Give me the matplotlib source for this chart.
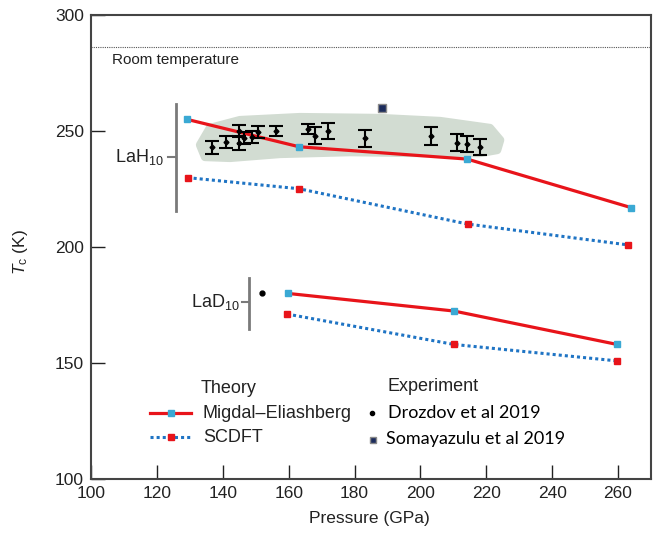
import matplotlib.pyplot as plt
from matplotlib.patches import Polygon

# theory curves (pressure in GPa, Tc in K)
lah_p = [129.2, 163.2, 214.2, 263.9]
lah_me = [255.0, 243.2, 237.9, 217.0]
lah_scdft_p = [129.3, 163.2, 214.3, 263.0]
lah_scdft = [229.9, 225.1, 209.9, 200.9]

lad_p = [159.7, 210.2, 259.7]
lad_me = [180.0, 172.4, 158.0]
lad_scdft_p = [159.5, 210.2, 259.7]
lad_scdft = [171.1, 158.0, 150.9]

# experiments
drozdov_p = [136.8, 141.0, 145.0, 145.0, 146.5, 149.0, 150.6, 156.2,
             166.0, 168.0, 172.0, 183.2, 203.1, 211.2, 214.2, 218.1]
drozdov_tc = [243.0, 245.3, 250.0, 245.0, 247.0, 247.5, 249.5, 250.0,
              250.9, 248.0, 250.1, 246.8, 247.8, 245.0, 244.4, 243.2]
drozdov_err = [2.7, 2.5, 2.5, 3.0, 2.5, 2.5, 2.5, 2.0,
               2.2, 3.8, 3.5, 3.8, 3.8, 3.8, 3.5, 3.5]
drozdov_lad_p = [151.8]
drozdov_lad_tc = [180.0]
somayazulu_p = [188.2]
somayazulu_tc = [259.8]

# shaded experimental band outline
band_p = [133.1, 136.1, 145.2, 163.4, 187.7, 206.0, 221.1, 224.2,
          223.3, 218.1, 199.9, 178.6, 157.4, 142.2, 134.6]
band_tc = [244.0, 251.3, 254.7, 256.0, 255.6, 254.3, 251.3, 246.1,
           241.8, 240.5, 240.5, 240.9, 240.1, 238.4, 238.8]

room_temp = 286.2

red = '#e8141a'
blue = '#1f74c4'
cyan = '#3aa9d4'
gray = '#7a7a7a'
navy = '#1c2c5c'

plt.rcParams['font.family'] = ['Liberation Sans', 'DejaVu Sans']
plt.rcParams['mathtext.fontset'] = 'custom'
plt.rcParams['mathtext.rm'] = 'Liberation Sans'
plt.rcParams['mathtext.it'] = 'Liberation Sans:italic'

fig = plt.figure(figsize=(6.56, 5.33), dpi=100)
ax = fig.add_axes([91 / 656, 1 - 479 / 533, 560 / 656, 464 / 533])

band = Polygon(list(zip(band_p, band_tc)), closed=True, facecolor='#d2dcd2',
               edgecolor='#d2dcd2', linewidth=6, joinstyle='round', zorder=1)
ax.add_patch(band)

ax.axhline(room_temp, color='#555555', linestyle=(0, (1, 1)), linewidth=0.8)
ax.text(106.5, 283.5, 'Room temperature', fontsize=11, color='#222222', va='top')

me_style = dict(color=red, linewidth=2.3, marker='s', markersize=4,
                markerfacecolor=cyan, markeredgecolor=cyan, zorder=3)
sc_style = dict(color=blue, linewidth=2.2, linestyle=(0, (1, 1)), marker='s',
                markersize=4, markerfacecolor=red, markeredgecolor=red, zorder=3)

ax.plot(lah_p, lah_me, **me_style)
ax.plot(lah_scdft_p, lah_scdft, **sc_style)
ax.plot(lad_p, lad_me, **me_style)
ax.plot(lad_scdft_p, lad_scdft, **sc_style)

ax.errorbar(drozdov_p, drozdov_tc, yerr=drozdov_err, fmt='D', color='black',
            markersize=2.5, capsize=5, capthick=1.5, elinewidth=1.5, zorder=4)
ax.plot(drozdov_lad_p, drozdov_lad_tc, 'o', color='black', markersize=3.5, zorder=4)
ax.plot(somayazulu_p, somayazulu_tc, 's', color=navy, markeredgecolor='#8a8a8a',
        markersize=6, zorder=4)

# compound brackets
ax.plot([125.7, 125.7], [261.6, 215.5], color=gray, linewidth=2)
ax.plot([123.4, 125.7], [238.9, 238.9], color=gray, linewidth=1.5)
ax.text(122.2, 238.9, 'LaH$_{10}$', fontsize=13, ha='right', va='center', color='#222222')
ax.plot([148.0, 148.0], [186.5, 164.5], color=gray, linewidth=2)
ax.plot([145.7, 148.0], [176.2, 176.2], color=gray, linewidth=1.5)
ax.text(145.3, 176.2, 'LaD$_{10}$', fontsize=13, ha='right', va='center', color='#222222')

# hand-placed legend
tr = ax.transAxes
ax.text(0.195, 0.196, 'Theory', transform=tr, fontsize=13, va='center', color='#222222')
ax.plot([0.105, 0.179], [0.142, 0.142], transform=tr, color=red, linewidth=2.3)
ax.plot([0.142], [0.142], 's', transform=tr, color=cyan, markersize=4)
ax.text(0.2, 0.142, 'Migdal\u2013Eliashberg', transform=tr, fontsize=13, va='center',
        color='#222222')
ax.plot([0.105, 0.179], [0.0905, 0.0905], transform=tr, color=blue, linewidth=2.2,
        linestyle=(0, (1, 1)))
ax.plot([0.142], [0.0905], 's', transform=tr, color=red, markersize=4)
ax.text(0.2, 0.0905, 'SCDFT', transform=tr, fontsize=13, va='center', color='#222222')

ax.text(0.530, 0.200, 'Experiment', transform=tr, fontsize=13, va='center', color='#222222')
ax.plot([0.502], [0.142], 'o', transform=tr, color='black', markersize=3)
ax.text(0.530, 0.142, 'Drozdov et al 2019', transform=tr, fontsize=13, va='center',
        color='black', family=['Lato', 'DejaVu Sans'])
ax.plot([0.504], [0.084], 's', transform=tr, color=navy, markeredgecolor='#8a8a8a',
        markersize=4)
ax.text(0.527, 0.086, 'Somayazulu et al 2019', transform=tr, fontsize=13, va='center',
        color='black', family=['Lato', 'DejaVu Sans'])

ax.set_xlim(100, 270)
ax.set_ylim(100, 300)
ax.set_xticks(range(100, 261, 20))
ax.set_yticks(range(100, 301, 50))
ax.tick_params(direction='in', length=10, width=1, labelsize=12.5, colors='#222222',
               pad=5)
for s in ax.spines.values():
    s.set_color('#444444')
    s.set_linewidth(1.5)

ax.set_xlabel('Pressure (GPa)', fontsize=12.5, color='#222222')
ax.set_ylabel(r'$T_{\rm c}$ (K)', fontsize=12.5, color='#222222')
ax.xaxis.set_label_coords(0.497, -0.07)
ax.yaxis.set_label_coords(-0.109, 0.49)

fig.savefig('out.png', dpi=100)
